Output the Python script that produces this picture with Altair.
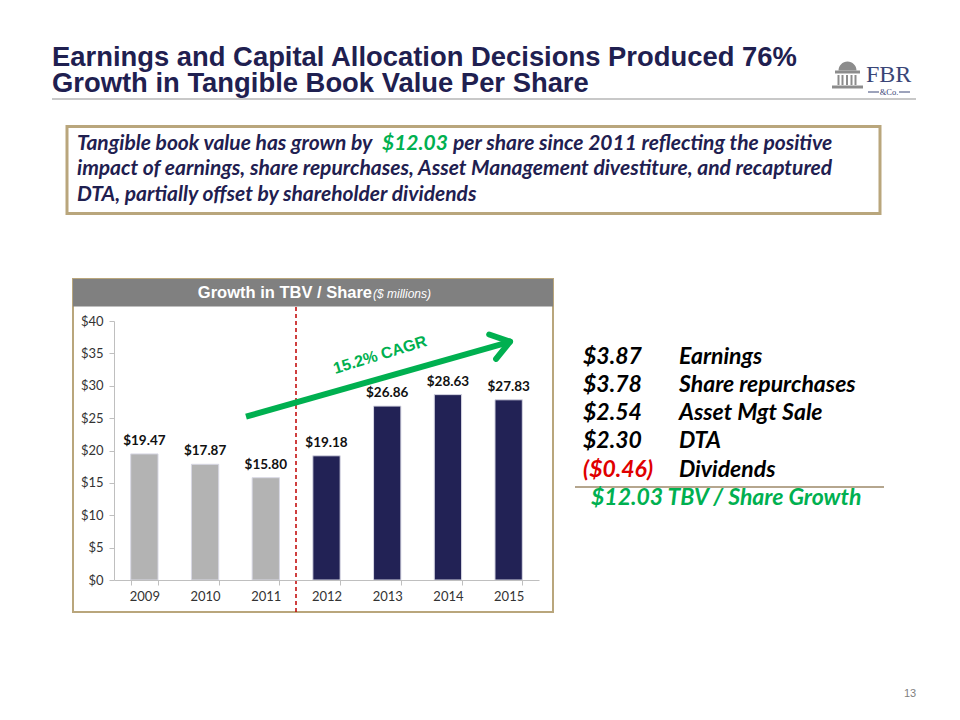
import altair as alt
import pandas as pd

# ---------------- data ----------------
years = ["2009", "2010", "2011", "2012", "2013", "2014", "2015"]
tbv = [19.47, 17.87, 15.80, 19.18, 26.86, 28.63, 27.83]
y_ticks = [0, 5, 10, 15, 20, 25, 30, 35, 40]

title_lines = [
    "Earnings and Capital Allocation Decisions Produced 76%",
    "Growth in Tangible Book Value Per Share",
]
box_line1 = ["Tangible book value has grown by", "$12.03",
             "per share since 2011 reflecting the positive"]
box_line2 = "impact of earnings, share repurchases, Asset Management divestiture, and recaptured"
box_line3 = "DTA, partially offset by shareholder dividends"
panel_title = "Growth in TBV / Share"
panel_subtitle = "($ millions)"
cagr_label = "15.2% CAGR"
bridge_amounts = ["$3.87", "$3.78", "$2.54", "$2.30", "($0.46)"]
bridge_labels = ["Earnings", "Share repurchases", "Asset Mgt Sale", "DTA", "Dividends"]
bridge_total = "$12.03 TBV / Share Growth"
logo_text = "FBR"
logo_sub = "&Co."
page_number = "13"

# ---------------- layout helpers ----------------
OX, OY = 114, 321          # slide coords of the plot-area origin
PW, PH = 425, 259          # plot area size
PAD = {"left": OX - 8, "top": OY - 8, "right": 936 - (OX - 8) - PW, "bottom": 696 - (OY - 8) - PH}

NAVY = "#1f2050"
GREEN = "#00b050"
TAN = "#b9a67c"
CAL = "Lato"
ARIAL = "Liberation Sans"
dummy = alt.Data(values=[{"k": 0}])


def X(v):
    return v - OX


def Y(v):
    return v - OY


def text(txt, x, y, size, color, font=CAL, weight="normal", style="normal",
         align="left", baseline="alphabetic", angle=0, **extra):
    return alt.Chart(dummy).mark_text(
        text=txt, fontSize=size, color=color, font=font, fontWeight=weight,
        fontStyle=style, align=align, baseline=baseline, angle=angle, **extra
    ).encode(x=alt.value(X(x)), y=alt.value(Y(y)))


def rect(x1, x2, y1, y2, fill, stroke=None, sw=0):
    kw = dict(fill=fill)
    if stroke:
        kw.update(stroke=stroke, strokeWidth=sw)
    return alt.Chart(dummy).mark_rect(**kw).encode(
        x=alt.value(X(x1)), x2=alt.value(X(x2)), y=alt.value(Y(y1)), y2=alt.value(Y(y2)))


def rule(x1, y1, x2, y2, color, width, dash=None, cap="butt"):
    kw = dict(color=color, strokeWidth=width, strokeCap=cap)
    if dash:
        kw["strokeDash"] = dash
    return alt.Chart(dummy).mark_rule(**kw).encode(
        x=alt.value(X(x1)), y=alt.value(Y(y1)), x2=alt.value(X(x2)), y2=alt.value(Y(y2)))


# ---------------- bar chart ----------------
df = pd.DataFrame({"year": years, "tbv": tbv})
axis_common = dict(title=None, domainColor="#bfbfbf", tickColor="#bfbfbf", tickSize=5,
                   labelFont=CAL, labelFontSize=13, labelColor="#333333", grid=False, zindex=1)
base = alt.Chart(df).encode(
    x=alt.X("year:N", sort=years,
            scale=alt.Scale(paddingInner=0.55, paddingOuter=0.275),
            axis=alt.Axis(labelAngle=0, tickBand="extent", labelPadding=5, **axis_common)),
    y=alt.Y("tbv:Q", scale=alt.Scale(domain=[0, 40], nice=False),
            axis=alt.Axis(values=y_ticks, labelExpr="'$' + datum.value", labelPadding=6,
                          **axis_common)),
)
bars = base.mark_bar(stroke="#d8d8e4", strokeWidth=1).encode(
    color=alt.when(alt.datum.year < "2012").then(alt.value("#b3b3b3")).otherwise(alt.value("#222255"))
)
bar_labels = base.mark_text(dy=-6, baseline="bottom", font=CAL, fontWeight="bold",
                            fontSize=13.5, color="#111111").encode(
    text=alt.Text("tbv:Q", format="$.2f"))

layers = []
# panel frame + header
layers.append(rect(73, 553, 279, 612, "#ffffff", TAN, 2))
layers.append(rect(73, 553, 279, 306.5, "#808080"))
layers.append(text(panel_title, 372, 298, 16.5, "#ffffff", font=ARIAL, weight="bold", align="right"))
layers.append(text(panel_subtitle, 373, 298, 12, "#ffffff", font=ARIAL, style="italic"))
layers += [bars, bar_labels]
# divider
layers.append(rule(296, 307, 296, 612, "#c00000", 1.5, dash=[4, 3]))
# CAGR arrow
layers.append(rule(246, 416.7, 508, 342.3, GREEN, 6))
layers.append(rule(489.2, 334.5, 510, 341.7, GREEN, 6, cap="round"))
layers.append(rule(496.1, 358.8, 510, 341.7, GREEN, 6, cap="round"))
layers.append(text(cagr_label, 380, 355, 16, GREEN, font=ARIAL, weight="bold",
                   align="center", baseline="middle", angle=343))

# title (one two-line text block)
TITLE_FS = 27.4
layers.append(text(title_lines, 52, 66, TITLE_FS, NAVY, font=ARIAL, weight="bold", lineHeight=26))
layers.append(rule(52, 99, 916, 99, "#c8c8c8", 2))

# logo
LG = "#8c8c8c"
layers.append(alt.Chart(dummy).mark_point(shape="M -1 1 A 1 1 0 0 1 1 1 Z", filled=True, size=324,
                                          color=LG, opacity=1).encode(
    x=alt.value(X(847.5)), y=alt.value(Y(70.5 - 9))))
layers.append(rect(835, 860, 70.5, 73.5, LG))
for cx in [838.5, 842.5, 847, 851.5, 855.5]:
    layers.append(rule(cx, 75, cx, 85, LG, 2))
layers.append(rect(832, 863, 85.5, 88.5, LG))
LOGO = "#3a4677"
layers.append(text(logo_text, 866, 82, 24, LOGO, font="Liberation Serif"))
layers.append(text(logo_sub, 889, 95, 8.5, LOGO, font="Liberation Serif", align="center"))
layers.append(rule(868, 92, 879, 92, LOGO, 1))
layers.append(rule(899, 92, 910, 92, LOGO, 1))

# message box
BOX_FS = 21
layers.append(rect(67, 880, 126.5, 213.5, "#ffffff", TAN, 3))
layers.append(text(box_line1[0], 77, 149.5, BOX_FS, NAVY, weight="bold", style="italic"))
layers.append(text(box_line1[1], 382, 149.5, BOX_FS, GREEN, weight="bold", style="italic"))
layers.append(text(box_line1[2], 453, 149.5, BOX_FS, NAVY, weight="bold", style="italic"))
layers.append(text(box_line2, 77, 175, BOX_FS, NAVY, weight="bold", style="italic"))
layers.append(text(box_line3, 77, 200.5, BOX_FS, NAVY, weight="bold", style="italic"))

# bridge list
BR_FS = 23
for i, (amt, lab) in enumerate(zip(bridge_amounts, bridge_labels)):
    yy = 363.5 + i * 28.3
    col = "#e00000" if amt.startswith("(") else "#000000"
    layers.append(text(amt, 583, yy, BR_FS, col, weight="bold", style="italic"))
    layers.append(text(lab, 679, yy, BR_FS, "#000000", weight="bold", style="italic"))
layers.append(rule(575, 487, 884, 487, "#9c8868", 1.5))
layers.append(text(bridge_total, 591, 505, BR_FS, GREEN, weight="bold", style="italic"))

# page number
layers.append(text(page_number, 910, 697, 11, "#7f7f7f", font=ARIAL, align="center"))

chart = alt.layer(*layers).properties(
    width=PW, height=PH,
    autosize=alt.AutoSizeParams(type="none"),
    padding=PAD,
    background="#ffffff",
).configure_view(strokeWidth=0)

chart.save("out.html", embed_options={"renderer": "svg", "actions": False})
